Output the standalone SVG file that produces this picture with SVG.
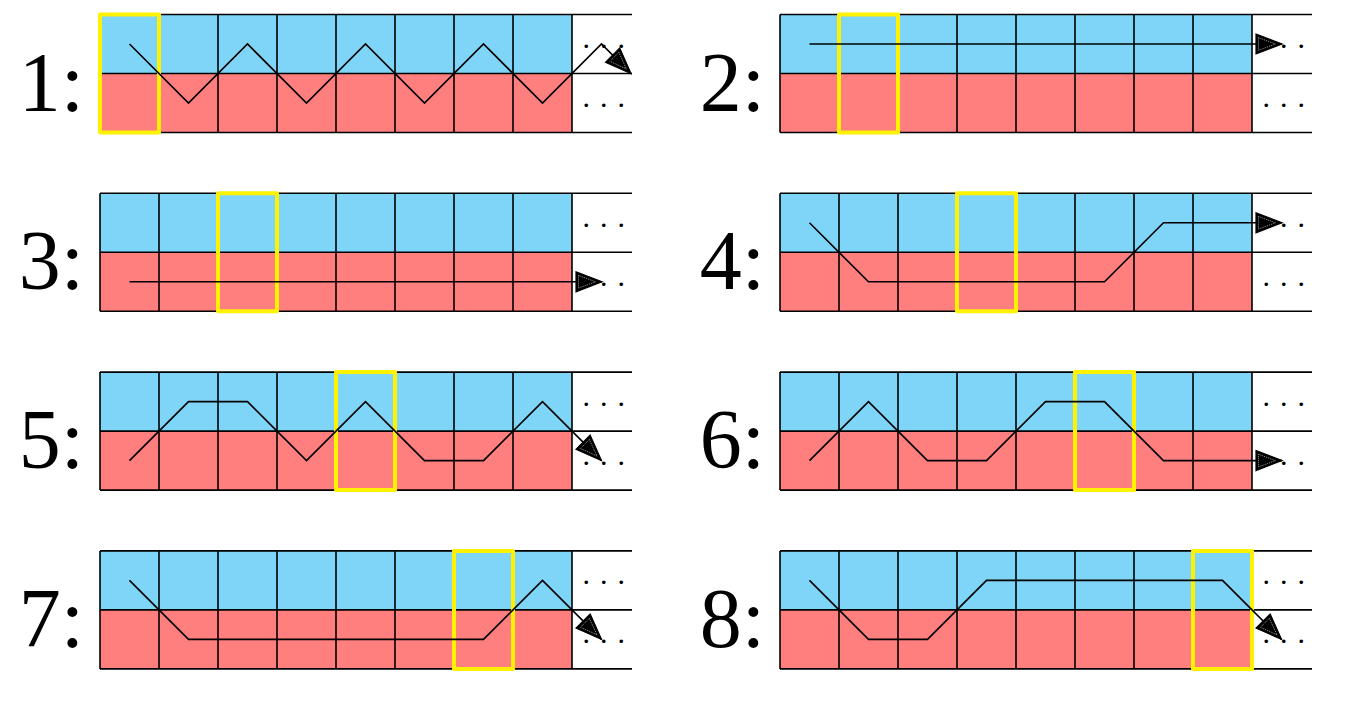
<svg xmlns="http://www.w3.org/2000/svg" xmlns:xlink="http://www.w3.org/1999/xlink" width="1361" height="715" viewBox="0 0 1361 715">
<style>
.blue{fill:#7fd5f7}
.red{fill:#ff7f7f}
.gl{stroke:#000;stroke-width:1.6;fill:none}
.sel{fill:none;stroke:#fff200;stroke-width:4;stroke-linejoin:round}
.walk{fill:none;stroke:#000;stroke-width:1.6;stroke-linejoin:miter;marker-end:url(#arr)}
.lbl{font-size:84px;fill:#000;text-anchor:end}
.dots{font-size:30px;fill:#000}
</style>
<defs>
<marker id="arr" markerUnits="userSpaceOnUse" markerWidth="32" markerHeight="26" viewBox="-2 -13 32 26" refX="26" refY="0" orient="auto">
<path d="M0,-10 L26,0 L0,10 Z" fill="#000" stroke="#000" stroke-width="1.2"/>
<path d="M2.5,-6.3 L19.5,0 L2.5,6.3 Z" fill="none" stroke="#fff" stroke-width="0.6" stroke-dasharray="1 1"/>
</marker>
<g id="grid">
<rect class="blue" x="0" y="0" width="472" height="59"/>
<rect class="red" x="0" y="59" width="472" height="59"/>
<path class="gl" d="M0,0H532M0,59H532M0,118H532M0,0V118M59,0V118M118,0V118M177,0V118M236,0V118M295,0V118M354,0V118M413,0V118M472,0V118"/>
<text class="dots" font-family="Liberation Serif, DejaVu Serif, serif" x="481.25" y="41.5">· · ·</text>
<text class="dots" font-family="Liberation Serif, DejaVu Serif, serif" x="481.25" y="100.5">· · ·</text>
</g>
</defs>
<rect x="0" y="0" width="1361" height="715" fill="#fff"/>
<g id="panel1"><use xlink:href="#grid" x="100" y="14.5"/><rect class="sel" x="100" y="14.5" width="59" height="118"/><text class="lbl" font-family="Liberation Serif, DejaVu Serif, serif" x="84" y="110.5">1:</text></g>
<g id="panel2"><use xlink:href="#grid" x="780" y="14.5"/><rect class="sel" x="839" y="14.5" width="59" height="118"/><text class="lbl" font-family="Liberation Serif, DejaVu Serif, serif" x="765" y="110.5">2:</text></g>
<g id="panel3"><use xlink:href="#grid" x="100" y="193.3"/><rect class="sel" x="218" y="193.3" width="59" height="118"/><text class="lbl" font-family="Liberation Serif, DejaVu Serif, serif" x="84" y="289.3">3:</text></g>
<g id="panel4"><use xlink:href="#grid" x="780" y="193.3"/><rect class="sel" x="957" y="193.3" width="59" height="118"/><text class="lbl" font-family="Liberation Serif, DejaVu Serif, serif" x="765" y="289.3">4:</text></g>
<g id="panel5"><use xlink:href="#grid" x="100" y="372.1"/><rect class="sel" x="336" y="372.1" width="59" height="118"/><text class="lbl" font-family="Liberation Serif, DejaVu Serif, serif" x="84" y="468.1">5:</text></g>
<g id="panel6"><use xlink:href="#grid" x="780" y="372.1"/><rect class="sel" x="1075" y="372.1" width="59" height="118"/><text class="lbl" font-family="Liberation Serif, DejaVu Serif, serif" x="765" y="468.1">6:</text></g>
<g id="panel7"><use xlink:href="#grid" x="100" y="550.9"/><rect class="sel" x="454" y="550.9" width="59" height="118"/><text class="lbl" font-family="Liberation Serif, DejaVu Serif, serif" x="84" y="646.9">7:</text></g>
<g id="panel8"><use xlink:href="#grid" x="780" y="550.9"/><rect class="sel" x="1193" y="550.9" width="59" height="118"/><text class="lbl" font-family="Liberation Serif, DejaVu Serif, serif" x="765" y="646.9">8:</text></g>
<g id="connectors">
<path class="walk" d="M129.5,44 L188.5,103 L247.5,44 L306.5,103 L365.5,44 L424.5,103 L483.5,44 L542.5,103 L601.5,44 L631,73.5"/>
<path class="walk" d="M809.5,44 L1282,44"/>
<path class="walk" d="M129.5,281.8 L602,281.8"/>
<path class="walk" d="M809.5,222.8 L868.5,281.8 L1104.5,281.8 L1163.5,222.8 L1282,222.8"/>
<path class="walk" d="M129.5,460.6 L188.5,401.6 L247.5,401.6 L306.5,460.6 L365.5,401.6 L424.5,460.6 L483.5,460.6 L542.5,401.6 L601.5,460.6"/>
<path class="walk" d="M809.5,460.6 L868.5,401.6 L927.5,460.6 L986.5,460.6 L1045.5,401.6 L1104.5,401.6 L1163.5,460.6 L1282,460.6"/>
<path class="walk" d="M129.5,580.4 L188.5,639.4 L483.5,639.4 L542.5,580.4 L601.5,639.4"/>
<path class="walk" d="M809.5,580.4 L868.5,639.4 L927.5,639.4 L986.5,580.4 L1222.5,580.4 L1281.5,639.4"/>
</g>
</svg>
